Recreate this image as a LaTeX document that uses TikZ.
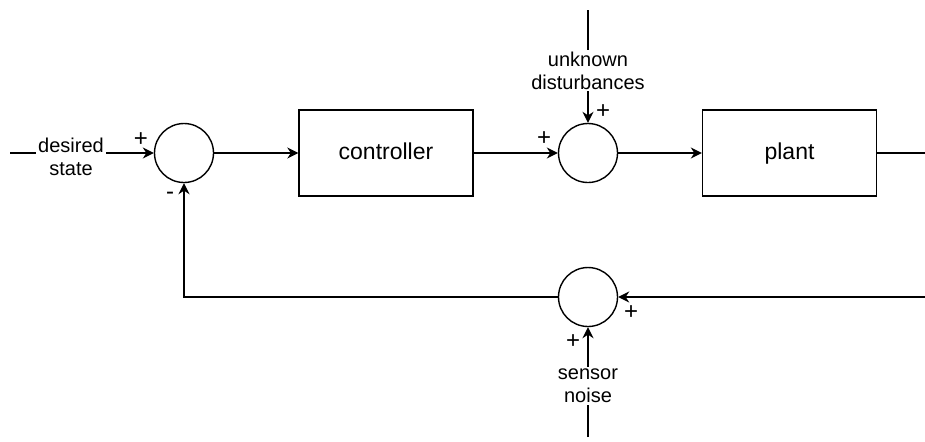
\documentclass[tikz,border=0pt]{standalone}
\usepackage{fontspec}
\setmainfont{Liberation Sans}
\usetikzlibrary{arrows.meta}

\begin{document}
\begin{tikzpicture}[x=0.5pt,y=-0.5pt,line width=0.7pt,
        font=\fontsize{10}{11.5}\selectfont,
        >={Stealth[length=5.5pt,width=5.5pt]},
        sumnode/.style={draw,circle,minimum size=29.5pt,inner sep=0pt},
        blockbox/.style={draw,rectangle,minimum width=87pt,minimum height=43pt,
            text height=8.5pt,text depth=2.5pt,
            font=\fontsize{11.5}{13}\selectfont},
        sig/.style={fill=white,inner sep=1pt,align=center},
        sgn/.style={inner sep=0pt,font=\fontsize{12}{13}\selectfont}]
        \useasboundingbox (0,0) rectangle (925,441);

        % summing junctions
        \node[sumnode] (S1) at (184,153) {};
        \node[sumnode] (S2) at (588,153) {};
        \node[sumnode] (S3) at (588,297) {};

        % blocks
        \node[blockbox] (ctrl) at (386,153) {controller};
        \node[blockbox] (plant) at (789.5,153) {plant};

        % loose ends
        \coordinate (in) at (10,153);
        \coordinate (out) at (925,153);
        \coordinate (fb) at (925,297);
        \coordinate (dist) at (588,10);
        \coordinate (noise) at (588,437);

        % forward path
        \draw[->] (in) -- (S1);
        \draw[->] (S1) -- (ctrl);
        \draw[->] (ctrl) -- (S2);
        \draw[->] (S2) -- (plant);
        \draw (plant) -- (out);

        % feedback path
        \draw[->] (fb) -- (S3);
        \draw[->] (S3.west) -| (S1.south);

        % disturbance and noise
        \draw[->] (dist) -- (S2);
        \draw[->] (noise) -- (S3);

        \node[sig] (dsr) at (71,157) {desired\\state};
        \node[sig] (dst) at (588,70.5) {unknown\\disturbances};
        \node[sig] (nse) at (588,386) {sensor\\noise};

        % signs
        \node[sgn] (p1) at (141,140) {+};
        \node[sgn] (m1) at (170,196) {-};
        \node[sgn] (p2) at (544,139) {+};
        \node[sgn] (p3) at (603,112) {+};
        \node[sgn] (p4) at (631,313) {+};
        \node[sgn] (p5) at (573,342) {+};

    \end{tikzpicture}
\end{document}
